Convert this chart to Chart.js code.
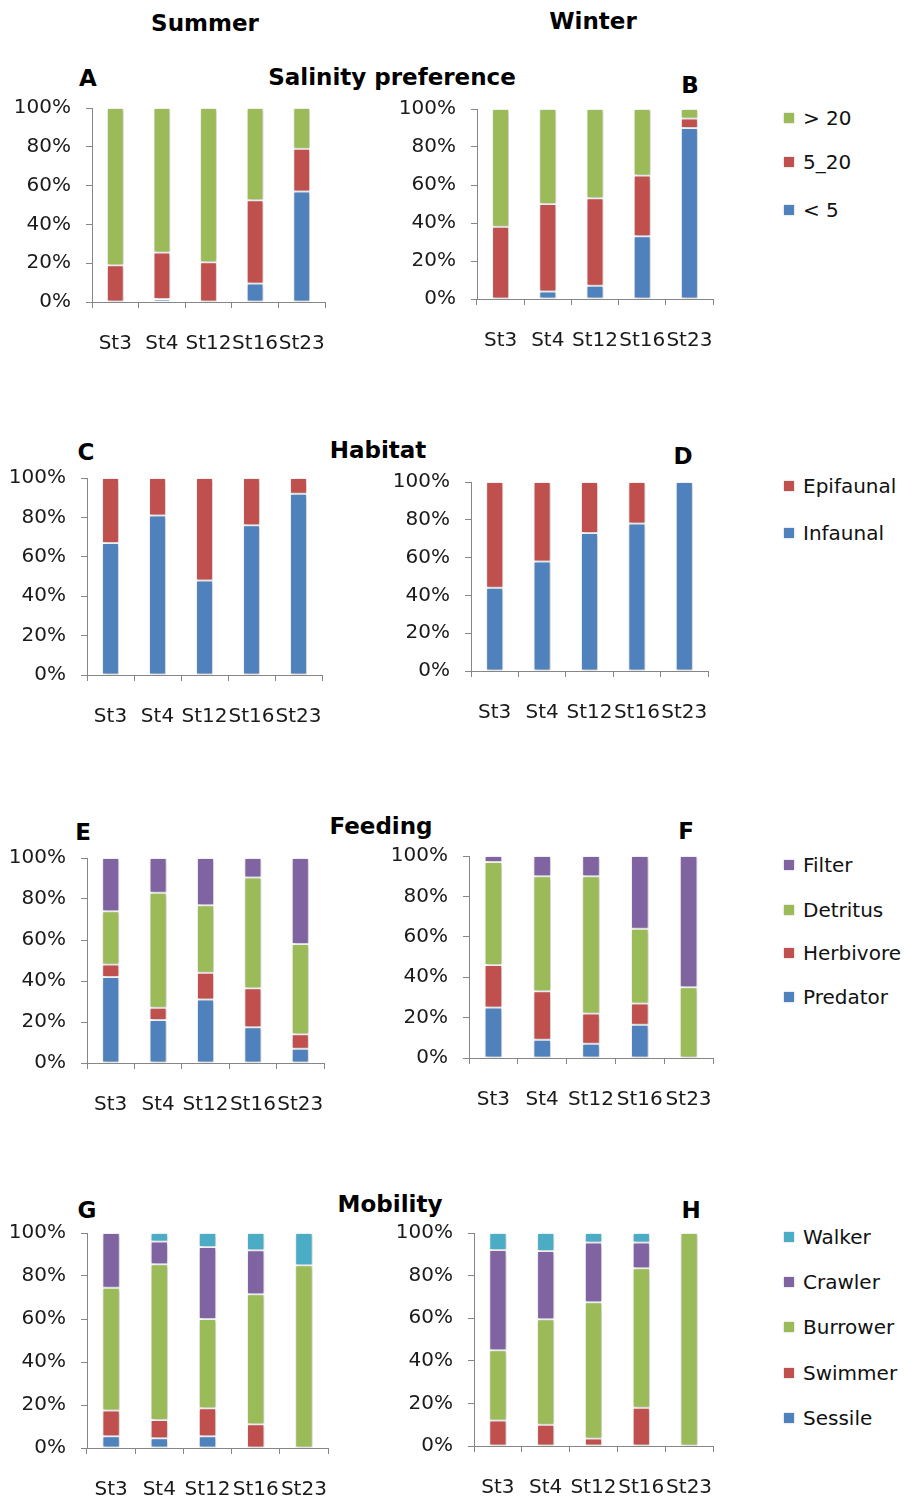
<!DOCTYPE html>
<html>
<head>
<meta charset="utf-8">
<script src="https://cdn.jsdelivr.net/npm/chart.js@4"></script>
<style>
  html, body { margin: 0; padding: 0; background: #ffffff; }
  #page { position: relative; width: 906px; height: 1499px; overflow: hidden; font-family: "DejaVu Sans", sans-serif; color: #111; }
  canvas { position: absolute; }
  .lbl { position: absolute; transform: translate(-50%, -50%); white-space: nowrap; font-weight: bold; font-size: 23px; color: #000; }
  .leg { position: absolute; transform: translateY(-50%); white-space: nowrap; font-size: 20px; color: #111; display: flex; align-items: center; }
  .sw { display: inline-block; width: 10px; height: 10px; margin-right: 9px; box-shadow: 0 0 2px rgba(0,0,0,0.25); }
</style>
</head>
<body>
<div id="page"></div>
<script>
// Stations and axis ticks
const stations = ['St3', 'St4', 'St12', 'St16', 'St23'];
const percentTicks = [0, 20, 40, 60, 80, 100];

// Salinity preference (% of individuals)
const salinityNames = ['< 5', '5_20', '> 20'];
const salLowSummer  = [0, 1.5, 0, 9.5, 57];
const salMidSummer  = [19, 24, 20.5, 43, 22];
const salHighSummer = [81, 74.5, 79.5, 47.5, 21];
const salLowWinter  = [0, 4, 7, 33, 90];
const salMidWinter  = [38, 46, 46, 32, 5];
const salHighWinter = [62, 50, 47, 35, 5];

// Habitat
const habitatNames = ['Infaunal', 'Epifaunal'];
const infaunalSummer  = [67, 81, 48, 76, 92];
const epifaunalSummer = [33, 19, 52, 24, 8];
const infaunalWinter  = [44, 58, 73, 78, 100];
const epifaunalWinter = [56, 42, 27, 22, 0];

// Feeding
const feedingNames = ['Predator', 'Herbivore', 'Detritus', 'Filter'];
const predatorSummer  = [42, 21, 31, 17.5, 7];
const herbivoreSummer = [6, 6, 13, 19, 7];
const detritusSummer  = [26, 56, 33, 54, 44];
const filterSummer    = [26, 17, 23, 9.5, 42];
const predatorWinter  = [25, 9, 7, 16.5, 0];
const herbivoreWinter = [21, 24, 15, 10.5, 0];
const detritusWinter  = [51, 57, 68, 37, 35];
const filterWinter    = [3, 10, 10, 36, 65];

// Mobility
const mobilityNames = ['Sessile', 'Swimmer', 'Burrower', 'Crawler', 'Walker'];
const sessileSummer  = [5.5, 4.5, 5.5, 0, 0];
const swimmerSummer  = [12, 8.5, 13, 11, 0];
const burrowerSummer = [57, 72.5, 41.5, 60.5, 85];
const crawlerSummer  = [25.5, 10.5, 33.5, 20.5, 0];
const walkerSummer   = [0, 4, 6.5, 8, 15];
const sessileWinter  = [0, 0, 0, 0, 0];
const swimmerWinter  = [12, 10, 3.5, 18, 0];
const burrowerWinter = [33, 49.5, 64, 65.5, 100];
const crawlerWinter  = [47, 32, 28, 12, 0];
const walkerWinter   = [8, 8.5, 4.5, 4.5, 0];

// Office-style palette
const BLUE = '#4F81BD', RED = '#C0504D', GREEN = '#9BBB59', PURPLE = '#8064A2', CYAN = '#4BACC6';
const salinityColors = [BLUE, RED, GREEN];
const habitatColors  = [BLUE, RED];
const feedingColors  = [BLUE, RED, GREEN, PURPLE];
const mobilityColors = [BLUE, RED, GREEN, PURPLE, CYAN];

// Plot area of every panel: axis left/right and 100%/0% lines, in page pixels
const panels = [
  { key: 'A', L: 92,  R: 325, T: 108, B: 302,  names: salinityNames, colors: salinityColors, series: [salLowSummer, salMidSummer, salHighSummer] },
  { key: 'B', L: 477, R: 713, T: 109, B: 299,  names: salinityNames, colors: salinityColors, series: [salLowWinter, salMidWinter, salHighWinter] },
  { key: 'C', L: 87,  R: 322, T: 478, B: 675,  names: habitatNames,  colors: habitatColors,  series: [infaunalSummer, epifaunalSummer] },
  { key: 'D', L: 471, R: 708, T: 482, B: 671,  names: habitatNames,  colors: habitatColors,  series: [infaunalWinter, epifaunalWinter] },
  { key: 'E', L: 87,  R: 324, T: 858, B: 1063, names: feedingNames,  colors: feedingColors,  series: [predatorSummer, herbivoreSummer, detritusSummer, filterSummer] },
  { key: 'F', L: 469, R: 713, T: 856, B: 1058, names: feedingNames,  colors: feedingColors,  series: [predatorWinter, herbivoreWinter, detritusWinter, filterWinter] },
  { key: 'G', L: 87,  R: 328, T: 1233, B: 1448, names: mobilityNames, colors: mobilityColors, series: [sessileSummer, swimmerSummer, burrowerSummer, crawlerSummer, walkerSummer] },
  { key: 'H', L: 474, R: 713, T: 1233, B: 1446, names: mobilityNames, colors: mobilityColors, series: [sessileWinter, swimmerWinter, burrowerWinter, crawlerWinter, walkerWinter] }
];

// Headings, panel letters and group titles
const headings = [
  { text: 'Summer', x: 205, y: 23 },
  { text: 'Winter', x: 593, y: 21 },
  { text: 'Salinity preference', x: 392, y: 77 },
  { text: 'Habitat', x: 378, y: 450 },
  { text: 'Feeding', x: 381, y: 826 },
  { text: 'Mobility', x: 390, y: 1204 },
  { text: 'A', x: 88, y: 78 }, { text: 'B', x: 690, y: 85 },
  { text: 'C', x: 86, y: 452 }, { text: 'D', x: 683, y: 456 },
  { text: 'E', x: 83, y: 832 }, { text: 'F', x: 686, y: 831 },
  { text: 'G', x: 87, y: 1210 }, { text: 'H', x: 691, y: 1210 }
];

// Legends (top entry = top of the stack)
const legends = [
  { names: salinityNames, colors: salinityColors, x: 784, y: [210, 162, 118] },
  { names: habitatNames,  colors: habitatColors,  x: 784, y: [533, 486] },
  { names: feedingNames,  colors: feedingColors,  x: 784, y: [997, 953, 910, 865] },
  { names: mobilityNames, colors: mobilityColors, x: 784, y: [1418, 1373, 1327, 1282, 1237] }
];

const page = document.getElementById('page');

headings.forEach(h => {
  const d = document.createElement('div');
  d.className = 'lbl';
  d.textContent = h.text;
  d.style.left = h.x + 'px';
  d.style.top = h.y + 'px';
  page.appendChild(d);
});

legends.forEach(lg => {
  lg.names.forEach((n, i) => {
    const d = document.createElement('div');
    d.className = 'leg';
    d.style.left = lg.x + 'px';
    d.style.top = lg.y[i] + 'px';
    const sw = document.createElement('span');
    sw.className = 'sw';
    sw.style.background = lg.colors[i];
    d.appendChild(sw);
    d.appendChild(document.createTextNode(n));
    page.appendChild(d);
  });
});

// Soft drop shadow behind the bars
const barShadow = {
  id: 'barShadow',
  beforeDatasetsDraw(chart) {
    const c = chart.ctx;
    c.save();
    c.shadowColor = 'rgba(0,0,0,0.28)';
    c.shadowBlur = 4;
    c.shadowOffsetX = 1;
    c.shadowOffsetY = 1;
  },
  afterDatasetsDraw(chart) { chart.ctx.restore(); }
};

Chart.defaults.font.family = '"DejaVu Sans", sans-serif';
Chart.defaults.color = '#1a1a1a';

const Y_W = 92, PAD_T = 20, PAD_R = 12, X_H = 62;
const AXIS = '#868686';

panels.forEach(p => {
  const cv = document.createElement('canvas');
  const w = (p.R - p.L) + Y_W + PAD_R;
  const h = (p.B - p.T) + PAD_T + X_H;
  cv.width = w; cv.height = h;
  cv.style.left = (p.L - Y_W) + 'px';
  cv.style.top = (p.T - PAD_T) + 'px';
  cv.style.width = w + 'px';
  cv.style.height = h + 'px';
  page.appendChild(cv);

  new Chart(cv, {
    type: 'bar',
    data: {
      labels: stations,
      datasets: p.series.map((vals, i) => ({
        label: p.names[i],
        data: vals,
        backgroundColor: p.colors[i],
        borderColor: '#ffffff',
        borderWidth: 1,
        borderSkipped: false,
        categoryPercentage: 1,
        barPercentage: 0.36
      }))
    },
    options: {
      responsive: false,
      animation: false,
      events: [],
      layout: { padding: { top: PAD_T, right: PAD_R, bottom: 0, left: 0 } },
      plugins: { legend: { display: false }, tooltip: { enabled: false } },
      scales: {
        x: {
          stacked: true,
          border: { display: true, color: AXIS, width: 1 },
          grid: { drawOnChartArea: false, drawTicks: true, tickLength: 6, color: AXIS, offset: true },
          ticks: { font: { size: 20 }, padding: 24, maxRotation: 0, minRotation: 0, autoSkip: false },
          afterFit(s) { s.height = X_H; s.paddingLeft = 0; s.paddingRight = 0; }
        },
        y: {
          stacked: true,
          min: 0, max: 100,
          afterBuildTicks(s) { s.ticks = percentTicks.map(v => ({ value: v })); },
          border: { display: true, color: AXIS, width: 1 },
          grid: { drawOnChartArea: false, drawTicks: true, tickLength: 6, color: AXIS },
          ticks: { font: { size: 20 }, padding: 15, callback: v => v + '%' },
          afterFit(s) { s.width = Y_W; s.paddingTop = 0; s.paddingBottom = 0; }
        }
      }
    },
    plugins: [barShadow]
  });
});
</script>
</body>
</html>
